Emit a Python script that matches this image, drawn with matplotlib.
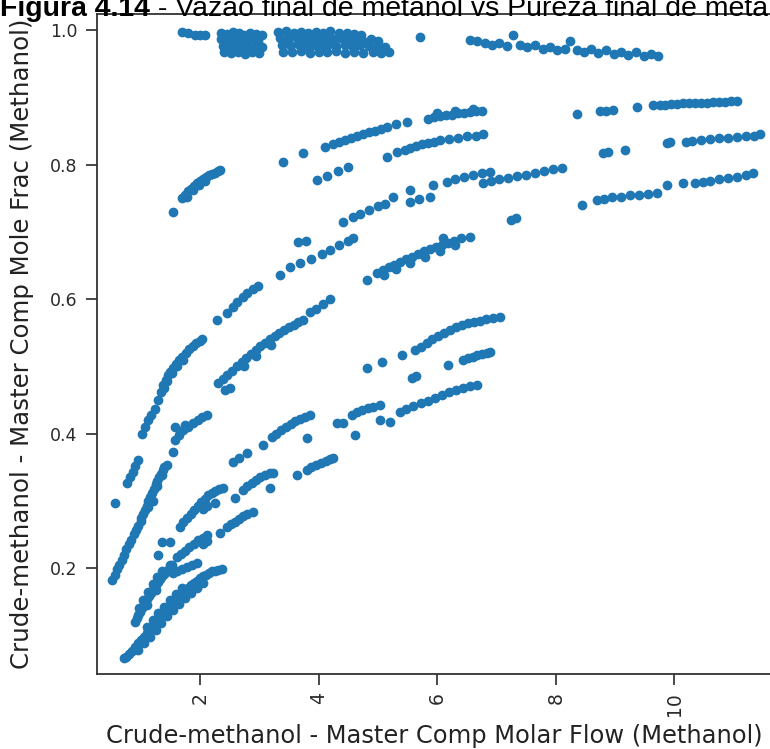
import numpy as np
import matplotlib
matplotlib.use("Agg")
import matplotlib.pyplot as plt

# Values, one list per visible strand of points
top_left = [(1.70, 0.997), (1.80, 0.996), (1.92, 0.993), (2.00, 0.993), (2.08, 0.992)]
top_c1 = [(2.35, 0.996), (2.45, 0.994), (2.55, 0.997), (2.65, 0.995), (2.75, 0.993), (2.85, 0.996), (2.95, 0.994), (3.05, 0.992),
          (2.36, 0.986), (2.46, 0.984), (2.58, 0.987), (2.68, 0.985), (2.78, 0.983), (2.88, 0.986), (2.98, 0.984),
          (2.38, 0.976), (2.50, 0.974), (2.60, 0.977), (2.72, 0.975), (2.82, 0.973), (2.94, 0.976), (3.04, 0.974),
          (2.40, 0.967), (2.52, 0.966), (2.64, 0.968), (2.76, 0.965), (2.88, 0.967), (3.00, 0.966)]
top_c2 = [(3.32, 0.997), (3.45, 0.998), (3.58, 0.996), (3.70, 0.997), (3.82, 0.995), (3.95, 0.997), (4.08, 0.996), (4.20, 0.998),
          (4.35, 0.995), (4.48, 0.996), (4.60, 0.994), (4.72, 0.993),
          (3.35, 0.988), (3.48, 0.987), (3.62, 0.989), (3.75, 0.986), (3.88, 0.988), (4.00, 0.987), (4.12, 0.989), (4.25, 0.986),
          (4.38, 0.988), (4.50, 0.985), (4.62, 0.987), (4.75, 0.984), (4.88, 0.986), (5.00, 0.983),
          (3.38, 0.978), (3.52, 0.977), (3.65, 0.979), (3.80, 0.976), (3.92, 0.978), (4.05, 0.977), (4.18, 0.979), (4.30, 0.976),
          (4.45, 0.978), (4.58, 0.975), (4.70, 0.977), (4.85, 0.976), (4.98, 0.974), (5.12, 0.975),
          (3.40, 0.968), (3.55, 0.967), (3.70, 0.969), (3.85, 0.966), (4.00, 0.968), (4.15, 0.967), (4.30, 0.969), (4.45, 0.966),
          (4.60, 0.968), (4.75, 0.966), (4.92, 0.967), (5.05, 0.966), (5.18, 0.968), (5.71, 0.989)]
top_right = [(6.55, 0.985), (6.68, 0.983), (6.80, 0.981), (6.92, 0.978), (7.05, 0.980), (7.18, 0.976), (7.28, 0.992),
             (7.40, 0.978), (7.52, 0.975), (7.65, 0.977), (7.78, 0.972), (7.90, 0.974), (8.02, 0.970), (8.15, 0.972),
             (8.24, 0.984), (8.35, 0.970), (8.48, 0.968), (8.60, 0.972), (8.72, 0.966), (8.85, 0.970), (8.98, 0.965),
             (9.10, 0.968), (9.22, 0.963), (9.35, 0.967), (9.48, 0.962), (9.60, 0.965), (9.72, 0.962)]

s_a = [(0.52, 0.182), (0.56, 0.19), (0.60, 0.198), (0.64, 0.205), (0.68, 0.212), (0.72, 0.22), (0.76, 0.228),
       (0.80, 0.235), (0.84, 0.242), (0.88, 0.25), (0.92, 0.257), (0.96, 0.263), (1.00, 0.27), (0.57, 0.297)]
s_b = [(0.77, 0.326), (0.82, 0.335), (0.87, 0.343), (0.91, 0.352), (0.95, 0.36), (1.02, 0.40), (1.08, 0.41),
       (1.13, 0.42), (1.18, 0.428), (1.24, 0.437), (1.29, 0.45), (1.34, 0.462), (1.38, 0.472), (1.42, 0.48),
       (1.46, 0.487), (1.50, 0.492), (1.55, 0.498), (1.60, 0.504), (1.65, 0.509), (1.70, 0.514), (1.76, 0.52),
       (1.82, 0.525), (1.88, 0.53), (1.94, 0.534), (2.00, 0.538), (2.03, 0.541),
       (1.40, 0.468), (1.45, 0.478), (1.52, 0.49), (1.62, 0.50), (1.72, 0.51)]
s_c = [(1.00, 0.275), (1.04, 0.28), (1.07, 0.287), (1.10, 0.292), (1.13, 0.30), (1.16, 0.305), (1.19, 0.312),
       (1.22, 0.318), (1.25, 0.325), (1.28, 0.33), (1.31, 0.335), (1.34, 0.34), (1.37, 0.345), (1.40, 0.35),
       (1.44, 0.353), (1.12, 0.29), (1.20, 0.30), (1.28, 0.322), (1.36, 0.338)]
s_d = [(0.90, 0.12), (0.93, 0.126), (0.96, 0.13), (0.99, 0.135), (1.02, 0.14), (1.05, 0.145), (1.08, 0.15),
       (1.11, 0.154), (1.14, 0.158), (1.17, 0.163), (1.20, 0.167), (1.23, 0.171), (1.26, 0.175), (1.29, 0.179),
       (1.32, 0.183), (1.35, 0.186), (1.38, 0.19), (1.41, 0.193), (1.44, 0.196), (1.47, 0.199), (1.50, 0.202),
       (1.53, 0.205), (0.97, 0.14), (1.04, 0.152), (1.12, 0.165), (1.20, 0.176), (1.28, 0.186), (1.36, 0.195),
       (1.10, 0.145), (1.25, 0.168)]
s_e = [(0.72, 0.066), (0.76, 0.068), (0.80, 0.072), (0.85, 0.077), (0.90, 0.082), (0.95, 0.088), (1.00, 0.093),
       (1.05, 0.098), (1.10, 0.103), (1.15, 0.108), (1.20, 0.113), (1.25, 0.118), (1.30, 0.123), (1.35, 0.128),
       (1.40, 0.133), (1.45, 0.138), (1.50, 0.143), (1.55, 0.148), (1.60, 0.152), (1.65, 0.157), (1.70, 0.161),
       (1.75, 0.166), (1.80, 0.17), (1.85, 0.174), (1.90, 0.178), (1.95, 0.181), (2.00, 0.185), (2.05, 0.188),
       (2.10, 0.19), (2.15, 0.193), (2.20, 0.195), (2.25, 0.196), (2.30, 0.197), (2.37, 0.199),
       (0.95, 0.078), (1.05, 0.088), (1.15, 0.098), (1.25, 0.108), (1.35, 0.118), (1.45, 0.128), (1.55, 0.138),
       (1.65, 0.147), (1.75, 0.155), (1.85, 0.163), (1.95, 0.171), (2.05, 0.178),
       (1.10, 0.112), (1.20, 0.122), (1.30, 0.133), (1.40, 0.142), (1.50, 0.152), (1.60, 0.161), (1.70, 0.17)]
s_f = [(1.29, 0.22), (1.36, 0.239), (1.49, 0.239), (1.49, 0.204), (1.55, 0.193), (1.62, 0.196), (1.70, 0.199),
       (1.78, 0.202), (1.86, 0.205), (1.95, 0.207), (1.61, 0.216), (1.68, 0.221), (1.75, 0.226), (1.82, 0.231),
       (1.90, 0.236), (1.97, 0.241), (2.05, 0.245), (2.12, 0.249)]
s_g = [(1.66, 0.261), (1.72, 0.268), (1.78, 0.274), (1.84, 0.28), (1.90, 0.286), (1.96, 0.292), (2.02, 0.298),
       (2.08, 0.303), (2.14, 0.308), (2.20, 0.312), (2.26, 0.315), (2.32, 0.318), (2.39, 0.319), (2.05, 0.288),
       (2.12, 0.292), (2.25, 0.296)]
s_h = [(2.05, 0.235), (2.12, 0.24), (2.34, 0.252), (2.45, 0.261), (2.52, 0.265), (2.59, 0.269), (2.66, 0.273),
       (2.73, 0.277), (2.80, 0.28), (2.89, 0.283)]
s_i = [(2.59, 0.304), (2.73, 0.316), (2.80, 0.322), (2.88, 0.327), (2.95, 0.331), (3.02, 0.335), (3.10, 0.338),
       (3.18, 0.341), (3.23, 0.342), (3.18, 0.319), (3.63, 0.338), (3.80, 0.346), (3.88, 0.35), (3.96, 0.353),
       (4.04, 0.356), (4.12, 0.359), (4.20, 0.362), (4.24, 0.363)]
s_j = [(2.56, 0.358), (2.65, 0.364), (2.79, 0.371), (3.06, 0.383), (3.21, 0.395), (3.29, 0.40), (3.37, 0.405),
       (3.45, 0.41), (3.53, 0.414), (3.61, 0.418), (3.69, 0.422), (3.77, 0.425), (3.85, 0.428), (3.80, 0.393)]
s_k = [(4.31, 0.416), (4.41, 0.416), (4.56, 0.428), (4.65, 0.432), (4.74, 0.435), (4.83, 0.438), (4.92, 0.44),
       (5.04, 0.442), (4.61, 0.398), (5.03, 0.42), (5.20, 0.417), (5.37, 0.432), (5.48, 0.437), (5.60, 0.441),
       (5.72, 0.445), (5.84, 0.449), (5.96, 0.453), (6.08, 0.457), (6.20, 0.461), (6.32, 0.464), (6.44, 0.467),
       (6.56, 0.47), (6.67, 0.472)]
s_l = [(1.55, 0.372), (1.58, 0.39), (1.65, 0.398), (1.72, 0.405), (1.80, 0.41), (1.88, 0.415), (1.96, 0.42),
       (2.04, 0.424), (2.12, 0.428), (1.58, 0.41), (1.75, 0.412)]
s_m = [(2.30, 0.475), (2.38, 0.481), (2.46, 0.487), (2.54, 0.493), (2.62, 0.50), (2.70, 0.506), (2.78, 0.512),
       (2.86, 0.518), (2.94, 0.524), (3.02, 0.53), (3.10, 0.535), (3.18, 0.54), (3.26, 0.545), (3.34, 0.55),
       (3.42, 0.554), (3.50, 0.558), (3.58, 0.562), (3.66, 0.566), (3.74, 0.569), (3.85, 0.58), (3.95, 0.585),
       (4.08, 0.592), (4.20, 0.60), (2.42, 0.465), (2.50, 0.468), (2.75, 0.50), (2.95, 0.515), (3.20, 0.532)]
s_n = [(2.29, 0.569), (2.46, 0.579), (2.55, 0.588), (2.63, 0.596), (2.72, 0.603), (2.80, 0.609), (2.89, 0.615),
       (2.98, 0.62), (3.35, 0.636), (3.52, 0.648), (3.69, 0.653), (3.87, 0.66), (4.05, 0.667), (4.20, 0.673),
       (4.35, 0.68), (4.50, 0.686), (4.58, 0.69), (3.65, 0.685), (3.78, 0.686)]
s_o = [(4.82, 0.628), (4.98, 0.639), (5.08, 0.643), (5.18, 0.647), (5.28, 0.651), (5.38, 0.655), (5.48, 0.659),
       (5.58, 0.663), (5.68, 0.667), (5.78, 0.671), (5.88, 0.675), (5.98, 0.678), (6.08, 0.681), (6.18, 0.684),
       (6.28, 0.687), (6.40, 0.69), (6.55, 0.692), (5.10, 0.636), (5.30, 0.644), (5.55, 0.654), (5.80, 0.662),
       (6.05, 0.672), (6.30, 0.68), (6.10, 0.69)]
s_p = [(4.82, 0.497), (5.07, 0.506), (5.40, 0.517), (5.63, 0.524), (5.72, 0.529), (5.82, 0.535), (5.92, 0.54),
       (6.02, 0.545), (6.12, 0.55), (6.22, 0.554), (6.32, 0.558), (6.42, 0.561), (6.52, 0.564), (6.62, 0.566),
       (6.72, 0.568), (6.82, 0.57), (6.94, 0.572), (7.06, 0.573)]
s_q = [(5.58, 0.483), (5.65, 0.486), (6.18, 0.502), (6.44, 0.509), (6.52, 0.512), (6.60, 0.514), (6.68, 0.516),
       (6.76, 0.518), (6.84, 0.52), (6.89, 0.521)]
s_r = [(1.55, 0.729), (1.70, 0.75), (1.75, 0.755), (1.80, 0.76), (1.85, 0.764), (1.90, 0.768), (1.95, 0.772),
       (2.00, 0.775), (2.05, 0.778), (2.10, 0.781), (2.15, 0.784), (2.20, 0.786), (2.25, 0.788), (2.30, 0.79),
       (2.34, 0.792), (1.78, 0.752), (1.88, 0.762), (1.98, 0.77), (2.08, 0.776)]
s_s = [(4.41, 0.714), (4.58, 0.722), (4.70, 0.727), (4.85, 0.733), (5.00, 0.738), (5.12, 0.742), (5.25, 0.752),
       (5.54, 0.762), (5.93, 0.77), (6.16, 0.774), (6.30, 0.778), (6.45, 0.781), (6.60, 0.785), (6.75, 0.787),
       (6.89, 0.789), (6.77, 0.772), (6.90, 0.775), (7.05, 0.778), (7.20, 0.78), (7.35, 0.783), (7.50, 0.785),
       (7.65, 0.788), (7.80, 0.79), (7.95, 0.793), (8.10, 0.795), (5.54, 0.744), (5.70, 0.748), (5.88, 0.752),
       (7.25, 0.717), (7.33, 0.72)]
s_t = [(8.44, 0.74), (8.70, 0.747), (8.82, 0.749), (8.95, 0.751), (9.10, 0.752), (9.25, 0.754), (9.40, 0.755),
       (9.55, 0.756), (9.71, 0.758), (9.87, 0.77), (10.14, 0.772), (10.35, 0.772), (10.48, 0.774), (10.60, 0.776),
       (10.75, 0.778), (10.90, 0.78), (11.05, 0.782), (11.20, 0.784), (11.33, 0.787)]
s_u = [(3.97, 0.777), (4.15, 0.783), (4.33, 0.79), (4.50, 0.796), (5.15, 0.811), (5.32, 0.819), (5.45, 0.822),
       (5.55, 0.825), (5.65, 0.828), (5.75, 0.83), (5.85, 0.832), (5.95, 0.834), (6.05, 0.836), (6.20, 0.838),
       (6.35, 0.84), (6.50, 0.842), (6.65, 0.843), (6.77, 0.845)]
s_v = [(8.80, 0.817), (8.88, 0.818), (9.17, 0.822), (9.87, 0.832), (9.92, 0.833), (10.20, 0.833), (10.30, 0.835),
       (10.45, 0.836), (10.60, 0.838), (10.75, 0.839), (10.90, 0.84), (11.05, 0.841), (11.20, 0.842),
       (11.35, 0.843), (11.44, 0.845)]
s_w = [(3.40, 0.804), (3.74, 0.817), (4.10, 0.826), (4.24, 0.83), (4.35, 0.833), (4.45, 0.836), (4.55, 0.839),
       (4.65, 0.842), (4.75, 0.845), (4.85, 0.848), (4.95, 0.85), (5.05, 0.853), (5.15, 0.856), (5.30, 0.86),
       (5.49, 0.863), (5.85, 0.868), (5.95, 0.87), (6.05, 0.872), (6.15, 0.873), (6.25, 0.874), (6.35, 0.876),
       (6.45, 0.877), (6.55, 0.878), (6.65, 0.879), (6.75, 0.88), (6.00, 0.876), (6.30, 0.879), (6.60, 0.882)]
s_x = [(8.36, 0.875), (8.75, 0.88), (8.85, 0.88), (8.97, 0.881), (9.37, 0.886), (9.64, 0.888), (9.75, 0.889),
       (9.85, 0.889), (9.95, 0.89), (10.05, 0.89), (10.15, 0.891), (10.25, 0.891), (10.35, 0.892), (10.45, 0.892),
       (10.55, 0.892), (10.65, 0.893), (10.75, 0.893), (10.85, 0.893), (10.95, 0.894), (11.05, 0.894)]

strands = [top_left, top_c1, top_c2, top_right, s_a, s_b, s_c, s_d, s_e, s_f, s_g, s_h, s_i, s_j, s_k,
           s_l, s_m, s_n, s_o, s_p, s_q, s_r, s_s, s_t, s_u, s_v, s_w, s_x]

xlabel = "Crude-methanol - Master Comp Molar Flow (Methanol)"
ylabel = "Crude-methanol - Master Comp Mole Frac (Methanol)"
title_bold = "Figura 4.14"
title_rest = " - Vazão final de metanol vs Pureza final de metanol"

fig = plt.figure(figsize=(7.70, 7.49), dpi=100)
ax = fig.add_axes([97 / 770, 75 / 749, 688 / 770, 660 / 749])

pts = np.array([p for s in strands for p in s])
ax.scatter(pts[:, 0], pts[:, 1], s=36, color="#1f77b4")

ax.set_xlim(0.263, 11.866)
ax.set_ylim(0.0424, 1.0238)
ax.set_xticks([2, 4, 6, 8, 10])
ax.set_yticks([0.2, 0.4, 0.6, 0.8, 1.0])
ax.tick_params(axis="x", labelrotation=90, labelsize=13.5, length=8, pad=5)
ax.tick_params(axis="y", labelsize=12.5, length=8, pad=6)
ax.tick_params(width=1.2, colors="#2a2a2a")
for sp in ax.spines.values():
    sp.set_linewidth(1.3)
    sp.set_color("#333333")

ax.set_xlabel(xlabel, fontsize=17.4, color="#222222", labelpad=6)
ax.set_ylabel(ylabel, fontsize=17.6, color="#222222")
ax.xaxis.label.set_x(0.49)
# right edge of the rotated y label sits about 63 px left of the axes
ax.yaxis.set_label_coords(-0.0916, 0.5)

# title: bold figure number followed by regular text, clipped at the top edge
base_y = 1 - 16 / 749
t1 = fig.text(0.0, base_y, title_bold, fontsize=20.5, fontweight="bold",
              family="Liberation Sans", va="baseline", ha="left")
renderer = fig.canvas.get_renderer()
bb = t1.get_window_extent(renderer=renderer)
x_after = bb.x1 / fig.bbox.width
fig.text(x_after, base_y, title_rest, fontsize=20.5, family="Liberation Sans",
         va="baseline", ha="left")

fig.savefig("out.png", dpi=100)
